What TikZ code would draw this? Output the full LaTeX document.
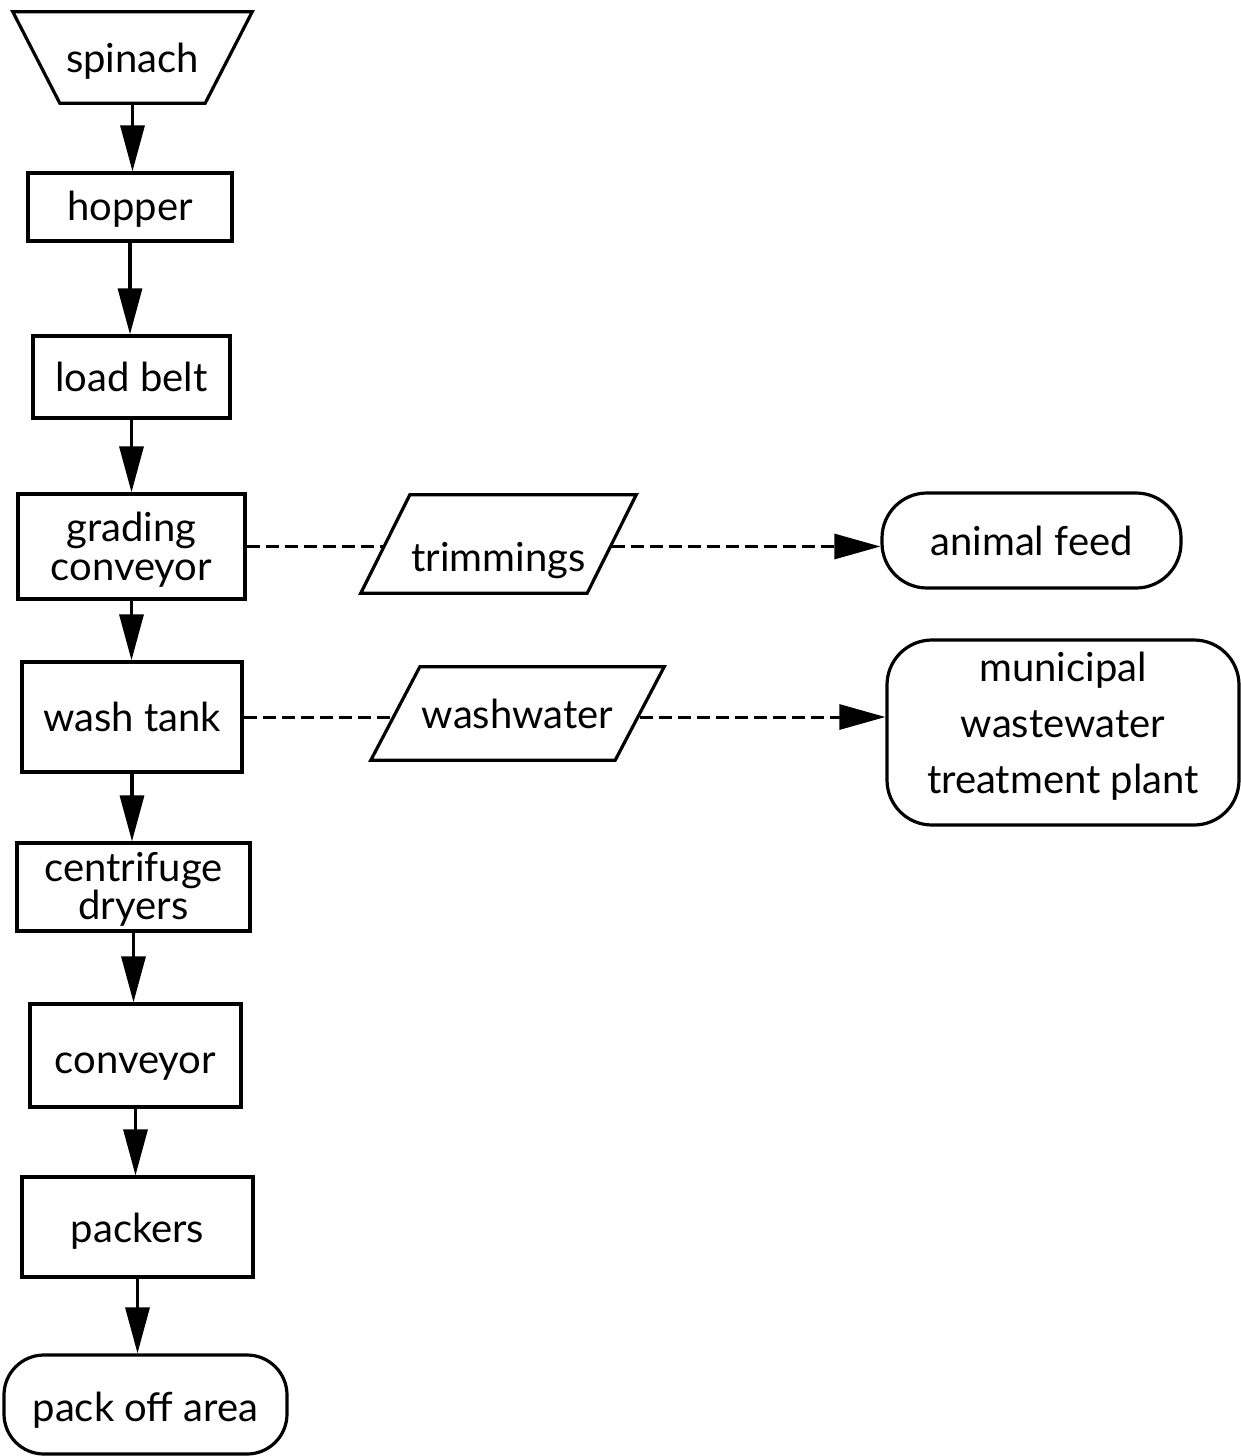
\documentclass[tikz,border=0pt]{standalone}
\usepackage{fontspec}
\setmainfont{Lato}
\usetikzlibrary{arrows.meta,calc}
\newcommand{\shiftdown}[2]{\raisebox{-#1}[\height][\depth]{#2}}
\newcommand{\stacklines}[1]{\begin{tabular}{@{}c@{}}#1\end{tabular}}
\begin{document}
\begin{tikzpicture}[x=1pt,y=-1pt,
  txt/.style={inner sep=0pt, align=center, font=\fontsize{40}{42}\selectfont},
  box/.style={txt, draw, line width=3.2pt},
  rbox/.style={box, rounded corners=#1},
  ghost/.style={txt},
  shp/.style={draw, line width=3.2pt, line join=miter},
  arr/.style={line width=3.2pt, -{Triangle[length=46pt,width=24pt]}},
  dsh/.style={line width=3pt, dash pattern=on 13pt off 6pt},
  dsharr/.style={dsh, -{Triangle[length=46pt,width=25pt]}}]
\useasboundingbox (0,0) rectangle (1241,1456);
\fill[white] (0,0) rectangle (1241,1456);

% source trapezoid
\node[ghost, minimum width=239pt, minimum height=91pt] (spin) at (132.5,57.5) {\shiftdown{4pt}{spinach}};
\draw[shp] (spin.north west) -- (spin.north east) -- ($(spin.south east)+(-47,0)$) -- ($(spin.south west)+(47,0)$) -- cycle;

% main column
\node[box, minimum width=204pt, minimum height=68pt] (hop) at (130,207) {\shiftdown{2pt}{hopper}};
\node[box, minimum width=197pt, minimum height=82pt] (load) at (131.5,377) {load belt};
\node[box, minimum width=227pt, minimum height=105pt] (grade) at (131.5,546.5) {\shiftdown{6pt}{\stacklines{grading\\[-3pt]conveyor}}};
\node[box, minimum width=220pt, minimum height=110pt] (wash) at (132,717) {wash tank};
\node[box, minimum width=233pt, minimum height=88pt] (centri) at (133.5,887) {\shiftdown{5pt}{\stacklines{centrifuge\\[-4pt]dryers}}};
\node[box, minimum width=211pt, minimum height=103pt] (conv) at (135.5,1055.5) {\shiftdown{11pt}{conveyor}};
\node[box, minimum width=231pt, minimum height=100pt] (pack) at (137.5,1227) {\shiftdown{4pt}{packers}};
\node[rbox=40pt, minimum width=283pt, minimum height=99pt] (off) at (145.5,1404.5) {\shiftdown{6pt}{pack off area}};

% side outputs
\node[ghost, minimum width=275pt, minimum height=98pt] (trim) at (498.5,544) {\shiftdown{17pt}{trimmings}};
\draw[shp] ($(trim.north west)+(49,0)$) -- (trim.north east) -- ($(trim.south east)+(-49,0)$) -- (trim.south west) -- cycle;
\coordinate (trimL) at ($(trim.west)+(24.5,0)$);
\coordinate (trimR) at ($(trim.east)+(-24.5,0)$);

\node[ghost, minimum width=293pt, minimum height=93pt] (ww) at (517.5,713.5) {washwater};
\draw[shp] ($(ww.north west)+(49,0)$) -- (ww.north east) -- ($(ww.south east)+(-49,0)$) -- (ww.south west) -- cycle;
\coordinate (wwL) at ($(ww.west)+(24.5,0)$);
\coordinate (wwR) at ($(ww.east)+(-24.5,0)$);

\node[rbox=45pt, minimum width=299pt, minimum height=95pt] (feed) at (1031.5,540.5) {animal feed};
\node[rbox=45pt, minimum width=352pt, minimum height=185pt] (muni) at (1063,732.5) {\shiftdown{-3pt}{\stacklines{municipal\\[14pt]wastewater\\[14pt]treatment plant}}};

% flow arrows
\draw[arr] (spin.south) -- (spin.south |- hop.north);
\draw[arr] (hop.south) -- (hop.south |- load.north);
\draw[arr] (load.south) -- (load.south |- grade.north);
\draw[arr] (grade.south) -- (grade.south |- wash.north);
\draw[arr] (wash.south) -- (wash.south |- centri.north);
\draw[arr] (centri.south) -- (centri.south |- conv.north);
\draw[arr] (conv.south) -- (conv.south |- pack.north);
\draw[arr] (pack.south) -- (pack.south |- off.north);

% dashed waste lines
\draw[dsh] (grade.east) -- (grade.east -| trimL);
\draw[dsharr] (trimR |- grade.east) -- (grade.east -| feed.west);
\draw[dsh] (wash.east) -- (wash.east -| wwL);
\draw[dsharr] (wwR |- wash.east) -- (wash.east -| muni.west);
\end{tikzpicture}
\end{document}
